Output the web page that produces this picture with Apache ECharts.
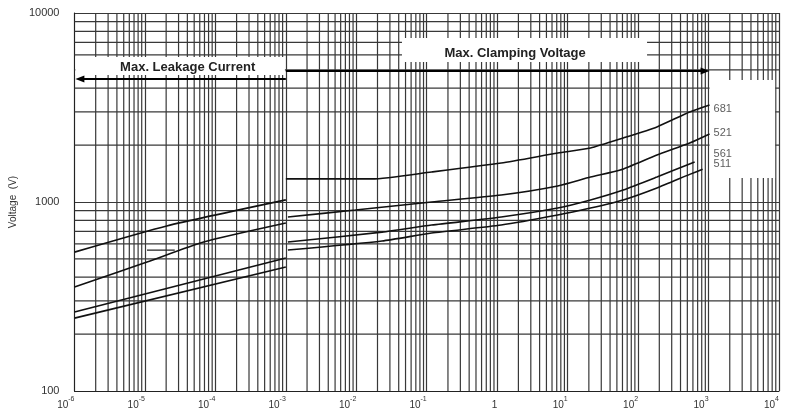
<!DOCTYPE html>
<html><head><meta charset="utf-8">
<script src="https://cdn.jsdelivr.net/npm/echarts@6/dist/echarts.min.js"></script>
<style>html,body{margin:0;padding:0;background:#fff}#c{width:787px;height:412px}</style>
</head><body><div id="c"></div>
<script>
// ---- axis ticks ----
const xTicks = [1e-6,1e-5,1e-4,1e-3,1e-2,1e-1,1,1e1,1e2,1e3,1e4];
const yTicks = [100,1000,10000];
// minor grid values (2..9 x decade)
const xMinor = [];
for (let n = -6; n < 4; n++) for (let k = 2; k <= 9; k++) xMinor.push(k * Math.pow(10, n));
const yMinor = [];
for (let n = 2; n < 4; n++) for (let k = 2; k <= 9; k++) yMinor.push(k * Math.pow(10, n));

// ---- series: [current (A), voltage (V)] ----
const leak681 = [[1e-6,543],[2.04e-5,747],[1e-3,1026]];
const leak521 = [[1e-6,355],[1.07e-5,481],[6.8e-5,614],[1e-3,774]];
const leak561 = [[1e-6,262],[1e-3,506]];
const leak511 = [[1e-6,243],[1e-3,453]];

const clamp681 = [[1e-3,1325],[0.0168,1325],[0.117,1442],[1.14,1607],[7.23,1815],[21.1,1932],[61.5,2182],[185,2497],[540,2994],[1033,3259]];
const clamp521 = [[1.07e-3,833],[9.7e-3,907],[0.117,1000],[1.14,1089],[7.23,1216],[21.1,1355],[55.7,1476],[185,1773],[540,2052],[1033,2291]];
const clamp561 = [[1.07e-3,614],[0.0232,693],[0.117,755],[1.14,833],[7.23,929],[21.1,1025],[61.5,1157],[185,1355],[635,1629]];
const clamp511 = [[1.07e-3,557],[0.0232,622],[0.117,685],[1.14,755],[7.23,853],[21.1,929],[61.5,1025],[185,1186],[540,1400],[823,1490]];
const strayDash = [[1.07e-5,557],[2.65e-5,557]];

const curveNames = ['681','521','561','511'];
const curveLabelAt = [[1102,3105],[1102,2317],[1102,1794],[1102,1589]];

// annotation boxes [x1,y1,x2,y2] and titles
const boxes = [[1.03e-6,5852,9.7e-4,4700],[0.0445,7380,134,5508],[1033,4426,8800,1340]];
const boxTitles = ['Max. Leakage Current','Max. Clamping Voltage',''];
const titleAt = [[4.04e-5,5176],[1.794,6137],null];
// arrows [xStart, y, xEnd]
const arrows = [[1e-3,4477,1.03e-6],[1e-3,4933,1033]];

const Y_MIN = 100, Y_MAX = 10000, X_MIN = 1e-6, X_MAX = 1e4;
const GRID_COLOR = '#383838';
const GRID_W = 1.2;
const FONT = '"Liberation Sans", Arial, sans-serif';

const chart = echarts.init(document.getElementById('c'));

function lineSeries(name, data, z) {
  return {name, type:'line', data, showSymbol:false, symbol:'none', smooth:0.2, silent:true, z: z || 4,
    lineStyle:{color:'#111', width:1.6}, animation:false};
}

const option = {
  backgroundColor:'#fff',
  animation:false,
  grid:{left:70, right:8, top:13, bottom:21, containLabel:false},
  xAxis:{type:'log', logBase:10, min:X_MIN, max:X_MAX, interval:1,
    axisLine:{show:true, lineStyle:{color:'#222', width:1}},
    axisTick:{show:false},
    splitLine:{show:true, lineStyle:{color:GRID_COLOR, width:GRID_W}},
    axisLabel:{margin:5, color:'#333', fontFamily:FONT, align:'right', padding:[0,0,0,0],
      formatter: v => { const e = Math.round(Math.log10(v)); return e === 0 ? '{b|1}' : '{b|10}{s|' + e + '}'; },
      rich:{b:{fontSize:10, color:'#333', fontFamily:FONT, lineHeight:14, verticalAlign:'bottom'},
            s:{fontSize:7, color:'#333', fontFamily:FONT, lineHeight:14, verticalAlign:'top'}}}
  },
  yAxis:{type:'log', logBase:10, min:Y_MIN, max:Y_MAX, interval:1,
    name:'Voltage  (V)', nameLocation:'middle', nameGap:55, nameRotate:90,
    nameTextStyle:{color:'#333', fontSize:10, fontFamily:FONT},
    axisLine:{show:true, lineStyle:{color:'#222', width:1}},
    axisTick:{show:false},
    splitLine:{show:true, lineStyle:{color:GRID_COLOR, width:GRID_W}},
    axisLabel:{margin:15, color:'#333', fontSize:11, fontFamily:FONT, formatter: v => String(Math.round(v))}
  },
  series:[
    {type:'custom', name:'vgrid', silent:true, z:1, data:xMinor.map(v => [v, 1000]), encode:{x:0, y:1},
      renderItem:(p, api) => { const a = api.coord([api.value(0), Y_MIN]), b = api.coord([api.value(0), Y_MAX]);
        return {type:'line', shape:{x1:a[0], y1:a[1], x2:b[0], y2:b[1]}, style:{stroke:GRID_COLOR, lineWidth:GRID_W}}; }},
    {type:'custom', name:'hgrid', silent:true, z:1, data:yMinor.map(v => [1, v]), encode:{x:0, y:1},
      renderItem:(p, api) => { const a = api.coord([X_MIN, api.value(1)]), b = api.coord([X_MAX, api.value(1)]);
        return {type:'line', shape:{x1:a[0], y1:a[1], x2:b[0], y2:b[1]}, style:{stroke:GRID_COLOR, lineWidth:GRID_W}}; }},
    {type:'custom', name:'boxes', silent:true, z:2, data:boxes, encode:{x:[0,2], y:[1,3]},
      renderItem:(p, api) => {
        const a = api.coord([api.value(0), api.value(1)]), b = api.coord([api.value(2), api.value(3)]);
        const i = p.dataIndex;
        const ch = [{type:'rect', shape:{x:Math.min(a[0],b[0]), y:Math.min(a[1],b[1]), width:Math.abs(b[0]-a[0]), height:Math.abs(b[1]-a[1])}, style:{fill:'#fff'}}];
        if (boxTitles[i]) { const t = api.coord(titleAt[i]);
          ch.push({type:'text', x:t[0], y:t[1], style:{text:boxTitles[i], fill:'#222', font:'bold 13px ' + FONT, align:'center', verticalAlign:'middle'}}); }
        return {type:'group', children:ch};
      }},
    lineSeries('681', leak681), lineSeries('521', leak521), lineSeries('561', leak561), lineSeries('511', leak511),
    lineSeries('681', clamp681), lineSeries('521', clamp521), lineSeries('561', clamp561), lineSeries('511', clamp511),
    {name:'dash', type:'line', data:strayDash, symbol:'none', silent:true, z:4, lineStyle:{color:'#222', width:1.2}},
    {type:'custom', name:'arrows', silent:true, z:5, data:arrows, encode:{x:[0,2], y:1},
      renderItem:(p, api) => {
        const a = api.coord([api.value(0), api.value(1)]), b = api.coord([api.value(2), api.value(1)]);
        const d = Math.sign(b[0]-a[0]), L = 9, W = 3.5;
        return {type:'group', children:[
          {type:'line', shape:{x1:a[0], y1:a[1], x2:b[0]-d*L*0.5, y2:b[1]}, style:{stroke:'#000', lineWidth:2}},
          {type:'polygon', shape:{points:[[b[0],b[1]],[b[0]-d*L,b[1]-W],[b[0]-d*L,b[1]+W]]}, style:{fill:'#000'}}
        ]};
      }},
    {type:'scatter', name:'labels', silent:true, z:6, symbolSize:0,
      data: curveNames.map((n, i) => ({name:n, value:curveLabelAt[i]})),
      label:{show:true, position:'right', distance:2, formatter:'{b}', color:'#333', fontSize:11, fontFamily:FONT}}
  ]
};
chart.setOption(option);
</script></body></html>
